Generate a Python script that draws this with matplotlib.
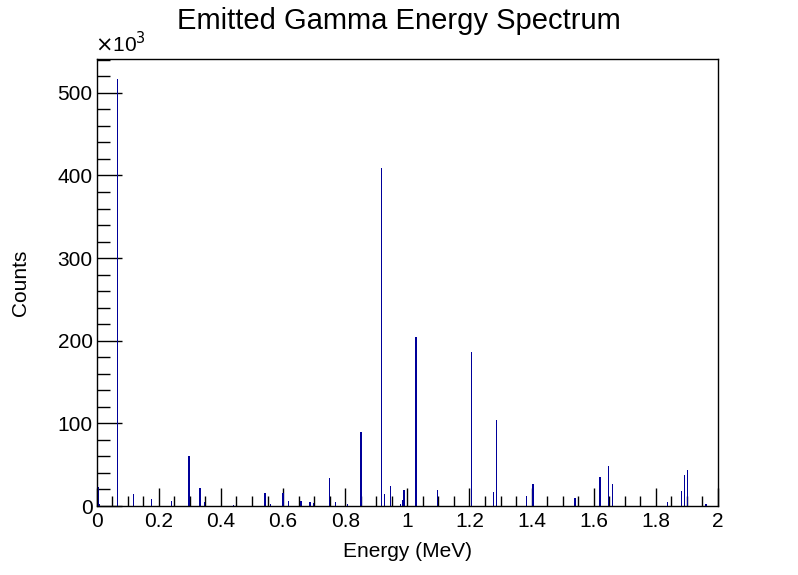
import numpy as np
import matplotlib
matplotlib.use("Agg")
import matplotlib.pyplot as plt
from matplotlib.ticker import MultipleLocator

plt.rcParams['font.family'] = ['Liberation Sans', 'DejaVu Sans']

# peak energies (MeV) and counts
energy = [0.005, 0.010, 0.066, 0.118, 0.176, 0.242, 0.296, 0.331, 0.348, 0.440,
          0.542, 0.560, 0.600, 0.617, 0.657, 0.687, 0.697, 0.749, 0.769, 0.807,
          0.850, 0.916, 0.926, 0.945, 0.977, 0.984, 0.988, 1.027, 1.096, 1.206,
          1.277, 1.286, 1.383, 1.404, 1.539, 1.620, 1.647, 1.660, 1.838, 1.883,
          1.893, 1.902, 1.962]
counts = [23000, 3000, 517000, 14500, 8500, 6000, 60500, 21800, 5000, 1500,
          15700, 2400, 15700, 6000, 6000, 5000, 3600, 34000, 4800, 2400,
          89600, 409000, 14500, 24000, 2400, 7000, 19400, 204600, 19400, 186400,
          17000, 104000, 12000, 26600, 9700, 35000, 48400, 26600, 4800, 18200,
          37500, 43600, 2400]

# peaks that look about two pixels wide in the picture
wide = {0.296, 0.331, 0.542, 0.600, 0.657, 0.687, 0.850, 0.988, 1.027, 1.404,
        1.539, 1.620, 1.962}
widths = [0.0064 if e in wide else 0.0034 for e in energy]

fig = plt.figure(figsize=(7.98, 5.75), dpi=100)
ax = fig.add_axes([0.1212, 0.12, 0.7785, 0.7774])

ax.bar(energy, np.array(counts) / 1000.0, width=widths, color='#000099',
       edgecolor='none', align='center', antialiased=False, zorder=3)

ax.set_xlim(0, 2)
ax.set_ylim(0, 541)
ax.xaxis.set_minor_locator(MultipleLocator(0.05))
ax.yaxis.set_major_locator(MultipleLocator(100))
ax.yaxis.set_minor_locator(MultipleLocator(20))
ax.set_xticks(np.arange(0, 2.01, 0.2))
ax.set_xticklabels(['0', '0.2', '0.4', '0.6', '0.8', '1', '1.2', '1.4', '1.6', '1.8', '2'])

ax.tick_params(axis='both', which='both', direction='in', top=False, right=False,
               labelsize=15, width=1, colors='black')
ax.tick_params(axis='x', which='major', length=13, pad=4)
ax.tick_params(axis='x', which='minor', length=7)
ax.tick_params(axis='y', which='major', length=18, pad=3)
ax.tick_params(axis='y', which='minor', length=9)
for s in ax.spines.values():
    s.set_linewidth(1)
    s.set_zorder(4)

ax.set_xlabel('Energy (MeV)', fontsize=15, labelpad=8)
ax.set_ylabel('Counts', fontsize=15, labelpad=20)
fig.text(0.5, 0.963, 'Emitted Gamma Energy Spectrum', ha='center', va='center', fontsize=21)
ax.text(-0.003, 1.006, r'$\times$10$^{3}$', transform=ax.transAxes, ha='left', va='bottom',
        fontsize=15)

fig.savefig('out.png', dpi=100, facecolor='white')
